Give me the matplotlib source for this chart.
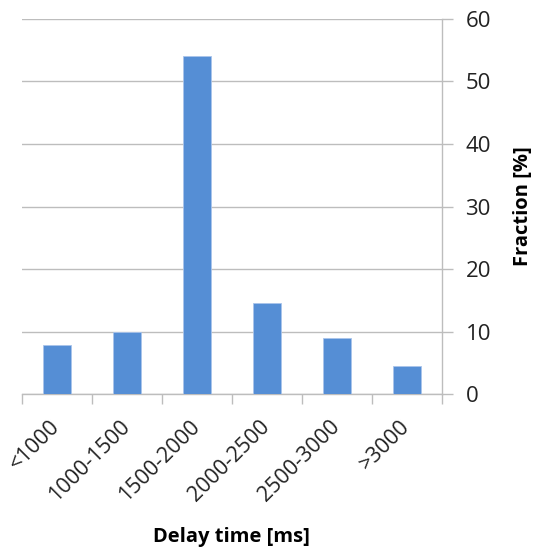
import matplotlib
matplotlib.use("Agg")
import matplotlib.pyplot as plt
import numpy as np

# delay-time bins and share of events in each bin (%)
categories = ["<1000", "1000-1500", "1500-2000", "2000-2500", "2500-3000", ">3000"]
fraction = [7.9, 10.0, 54.0, 14.6, 9.0, 4.5]
y_ticks = [0, 10, 20, 30, 40, 50, 60]

plt.rcParams["font.family"] = ["Open Sans", "DejaVu Sans"]

fig = plt.figure(figsize=(5.33, 5.52), dpi=100)
ax = fig.add_axes([0.0413, 0.2862, 0.7877, 0.6794])

grey = "#BDBDBD"
x = np.arange(len(categories))
ax.bar(x, fraction, width=0.4, color="#558ED5", edgecolor="#A9C4EB",
       linewidth=0.6, zorder=3)

ax.set_xlim(-0.5, len(categories) - 0.5)
ax.set_ylim(0, 60)

# value axis on the right
ax.yaxis.tick_right()
ax.set_yticks(y_ticks)
ax.tick_params(axis="y", which="major", length=8, width=1, color=grey,
               labelsize=16, pad=9, labelcolor="#222222")
ax.grid(axis="y", color=grey, linewidth=1, zorder=0)

# category labels at bar centres, tick marks on the bin boundaries
ax.set_xticks(x)
ax.set_xticklabels(categories, rotation=45, ha="right", va="center",
                   rotation_mode="anchor", fontsize=15.5, color="#222222")
ax.set_xticks(np.arange(len(categories) + 1) - 0.5, minor=True)
ax.tick_params(axis="x", which="major", length=0, pad=21)
ax.tick_params(axis="x", which="minor", length=7, width=1, color=grey)

for side in ["top", "left"]:
    ax.spines[side].set_visible(False)
for side in ["right", "bottom"]:
    ax.spines[side].set_color(grey)
    ax.spines[side].set_linewidth(1)

ax.set_xlabel("Delay time [ms]", fontsize=14.5, fontweight="bold",
              va="center", ha="center")
ax.xaxis.set_label_coords(0.5, -0.381)
ax.set_ylabel("Fraction [%]", fontsize=14.5, fontweight="bold",
              va="center", ha="center", rotation=90)
ax.yaxis.set_label_coords(1.193, 0.5)

fig.savefig("out.png", dpi=100)
